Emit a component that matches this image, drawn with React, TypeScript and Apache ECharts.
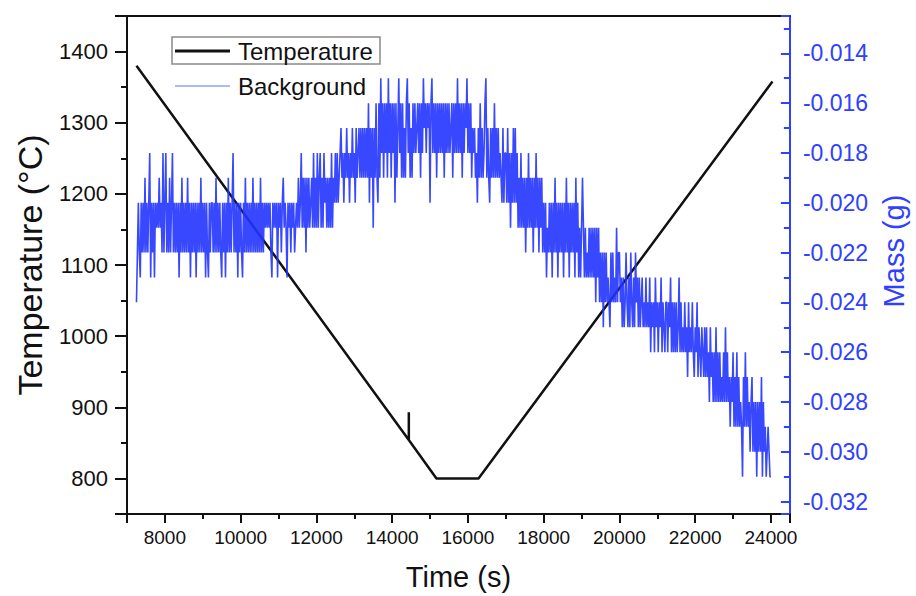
import React, { useEffect, useRef } from "react";
import * as echarts from "echarts";

// ---- Temperature (black line) ----
const tempTime = [7250, 14440, 14440, 14440, 15170, 16280, 24040];
const tempValue = [1380, 854, 893, 854, 800, 800, 1358];

// ---- Background mass (blue), digitized quantized levels ----
// one character per sample, one sample every 25 s from 7250 s (one string per 1000 s);
// level code k (base 36) means mass = -0.014 - k * 0.001 g
const massStart = 7250;
const massStep = 25;
const massTopLevel = -0.014;
const massLevelStep = 0.001;
const massCodes = [
  "a868968685868649686967675768486486858648",
  "6868696858686858696868696868586869689686",
  "6868586868968696858686486869686896858686",
  "8685868686858686767676896767696768657679",
  "6768676876757647575857576574757475475746",
  "5757574756464654354645354645354635435353",
  "5353526353735256251425242514252426253142",
  "5253521425352424324252413242326214242524",
  "2424252424243252424142425242314242534354",
  "6352535421535635352535354563644636474636",
  "3647574757585747575857475857586869786869",
  "6858696868696858696868695869797579798979",
  "79797a797a8a8b8a8a9ab8a8a9a7a88a9b9ba8ab",
  "9b8ab9b8a9b9ba9bab9bab9cabac9bacab9cabca",
  "acab9cacacacb9cacbcacbdacbcacdbcadbcdbcd",
  "bdbdcebdcecebececedecebecedfdecfdfcfdfef",
  "hdfcfdfegedgegehegegdhegfhgfghh",
];

// ---- Axes ----
const timeRange = [7000, 24500];
const tempRange = [750, 1450];
const massRange = [-0.0325, -0.0125];

const FONT = "'Liberation Sans', Arial, Helvetica, sans-serif";
const BLUE = "#2f40ff";
const MASS_COLOR = "#2234ff";

export default function App() {
  const ref = useRef<HTMLDivElement>(null);

  useEffect(() => {
    if (!ref.current) return;
    const chart = echarts.init(ref.current, undefined, { renderer: "svg" });

    const massData: [number, number][] = [];
    let idx = 0;
    massCodes.join("").split("").forEach((c) => {
      const k = parseInt(c, 36);
      const v = +(massTopLevel - k * massLevelStep).toFixed(4);
      massData.push([massStart + idx * massStep, v]);
      idx++;
    });
    const tempData = tempTime.map((t, i) => [t, tempValue[i]]);

    const option: any = {
      animation: false,
      backgroundColor: "#ffffff",
      textStyle: { fontFamily: FONT },
      grid: { left: 127, right: 116, top: 16, bottom: 82, containLabel: false },
      xAxis: [
        {
          type: "value",
          position: "bottom",
          min: timeRange[0],
          max: timeRange[1],
          splitNumber: 8,
          minInterval: 2000,
          maxInterval: 2000,
          axisLine: { show: true, lineStyle: { color: "#111", width: 2 } },
          axisTick: { show: true, inside: false, length: 9, lineStyle: { color: "#111", width: 2 } },
          minorTick: { show: true, splitNumber: 2, length: 5, lineStyle: { color: "#111", width: 2 } },
          axisLabel: {
            show: true,
            showMinLabel: false,
            showMaxLabel: false,
            margin: 14,
            fontSize: 19,
            color: "#111",
            fontFamily: FONT,
            formatter: (v: number) => String(v),
          },
          splitLine: { show: false },
          name: "Time (s)",
          nameLocation: "middle",
          nameGap: 48,
          nameTextStyle: { fontSize: 29, color: "#111", fontFamily: FONT },
        },
        {
          type: "value",
          position: "top",
          min: timeRange[0],
          max: timeRange[1],
          axisLine: { show: true, lineStyle: { color: "#111", width: 2 } },
          axisTick: { show: false },
          axisLabel: { show: false },
          splitLine: { show: false },
        },
      ],
      yAxis: [
        {
          type: "value",
          position: "left",
          min: tempRange[0],
          max: tempRange[1],
          splitNumber: 7,
          minInterval: 100,
          maxInterval: 100,
          axisLine: { show: true, lineStyle: { color: "#111", width: 2 } },
          axisTick: { show: true, inside: false, length: 12, lineStyle: { color: "#111", width: 2 } },
          minorTick: { show: true, splitNumber: 2, length: 6, lineStyle: { color: "#111", width: 2 } },
          axisLabel: {
            show: true,
            showMinLabel: false,
            showMaxLabel: false,
            margin: 19,
            fontSize: 22,
            color: "#111",
            fontFamily: FONT,
            formatter: (v: number) => String(v),
          },
          splitLine: { show: false },
          name: "Temperature (\u00b0C)",
          nameLocation: "middle",
          nameRotate: 90,
          nameGap: 80,
          nameTextStyle: { fontSize: 34, color: "#111", fontFamily: FONT },
        },
        {
          type: "value",
          position: "right",
          min: massRange[0],
          max: massRange[1],
          splitNumber: 10,
          minInterval: 0.002,
          maxInterval: 0.002,
          axisLine: { show: true, lineStyle: { color: BLUE, width: 2 } },
          axisTick: { show: true, inside: true, length: 9, lineStyle: { color: BLUE, width: 2 } },
          minorTick: { show: true, splitNumber: 2, length: 6, lineStyle: { color: BLUE, width: 2 } },
          axisLabel: {
            show: true,
            showMinLabel: false,
            showMaxLabel: false,
            margin: 13,
            fontSize: 23,
            color: BLUE,
            fontFamily: FONT,
            formatter: (v: number) => v.toFixed(3),
          },
          splitLine: { show: false },
          name: "Mass (g)",
          nameLocation: "middle",
          nameRotate: 90,
          nameGap: 88,
          nameTextStyle: { fontSize: 29, color: BLUE, fontFamily: FONT, padding: [0, 0, 0, 28] },
        },
      ],
      graphic: [
        {
          type: "rect",
          shape: { x: 172, y: 37, width: 208, height: 27 },
          style: { fill: "none", stroke: "#8a8a8a", lineWidth: 1.5 },
          z: 10,
        },
        {
          type: "line",
          shape: { x1: 175, y1: 51, x2: 230, y2: 51 },
          style: { stroke: "#111", lineWidth: 3 },
          z: 10,
        },
        {
          type: "text",
          x: 238,
          y: 51,
          style: {
            text: "Temperature",
            fontSize: 24,
            fontFamily: FONT,
            fill: "#111",
            verticalAlign: "middle",
            align: "left",
          },
          z: 10,
        },
        {
          type: "line",
          shape: { x1: 175, y1: 86, x2: 230, y2: 86 },
          style: { stroke: MASS_COLOR, lineWidth: 1, opacity: 0.7 },
          z: 10,
        },
        {
          type: "text",
          x: 238,
          y: 86,
          style: {
            text: "Background",
            fontSize: 24,
            fontFamily: FONT,
            fill: "#111",
            verticalAlign: "middle",
            align: "left",
          },
          z: 10,
        },
      ],
      series: [
        {
          name: "Temperature",
          type: "line",
          xAxisIndex: 0,
          yAxisIndex: 0,
          data: tempData,
          symbol: "none",
          lineStyle: { color: "#111", width: 2.5 },
          z: 2,
        },
        {
          name: "Background",
          type: "line",
          xAxisIndex: 0,
          yAxisIndex: 1,
          data: massData,
          symbol: "none",
          lineStyle: { color: MASS_COLOR, width: 1.6, opacity: 0.9 },
          z: 3,
        },
      ],
    };

    chart.setOption(option);
    return () => {
      chart.dispose();
    };
  }, []);

  return (
    <div
      ref={ref}
      style={{ position: "fixed", left: 0, top: 0, width: 916, height: 596, background: "#fff" }}
    />
  );
}
